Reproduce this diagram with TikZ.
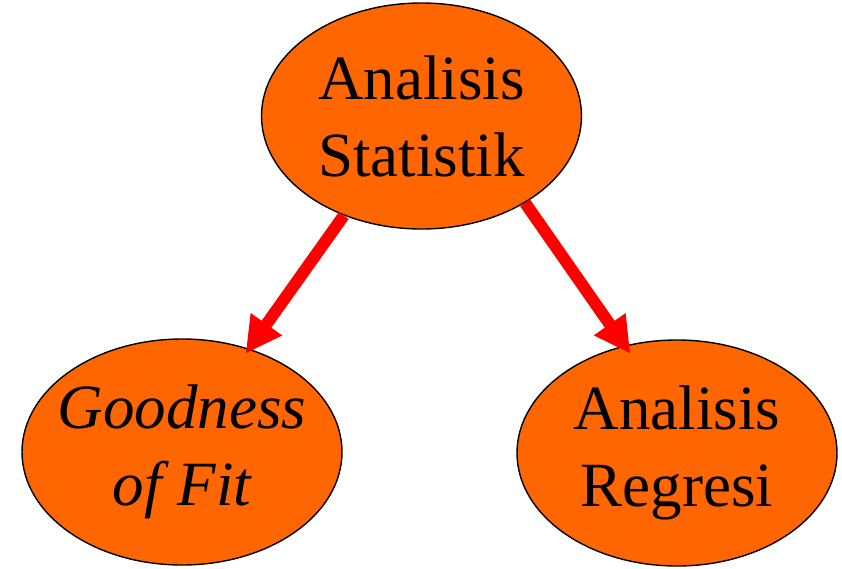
\documentclass[tikz,border=0pt]{standalone}
\usepackage{fontspec}
\setmainfont{Liberation Serif}
\usetikzlibrary{shapes.geometric,arrows.meta}
\definecolor{bluborange}{HTML}{FF6600}
\definecolor{arrowred}{HTML}{FF0000}

\begin{document}
\begin{tikzpicture}[x=1pt, y=-1pt,
    blob/.style={ellipse, draw=black, line width=1.4pt, fill=bluborange,
        minimum width=320pt, minimum height=226pt,
        inner xsep=-40pt, inner ysep=0pt,
        align=center, font=\fontsize{63}{77}\selectfont},
    redarrow/.style={draw=arrowred, line width=12pt,
        -{Triangle[length=36pt,width=36pt]}}]
    % the page
    \useasboundingbox (0,0) rectangle (842,568);

    % the top ellipse
    \node[blob] (stat) at (421.5,116) {Analisis\\Statistik};
    % the two ellipses below it
    \node[blob] (gof) at (182,452) {\itshape Goodness\\\itshape of Fit};
    \node[blob] (regr) at (677,453) {Analisis\\Regresi};

    % arrow to Goodness of Fit
    \draw[redarrow, shorten >=-6pt] (stat.-128) -- (gof.57);
    % arrow to Analisis Regresi
    \draw[redarrow, shorten >=-10pt] (stat.-40) -- (regr.116);
\end{tikzpicture}
\end{document}
